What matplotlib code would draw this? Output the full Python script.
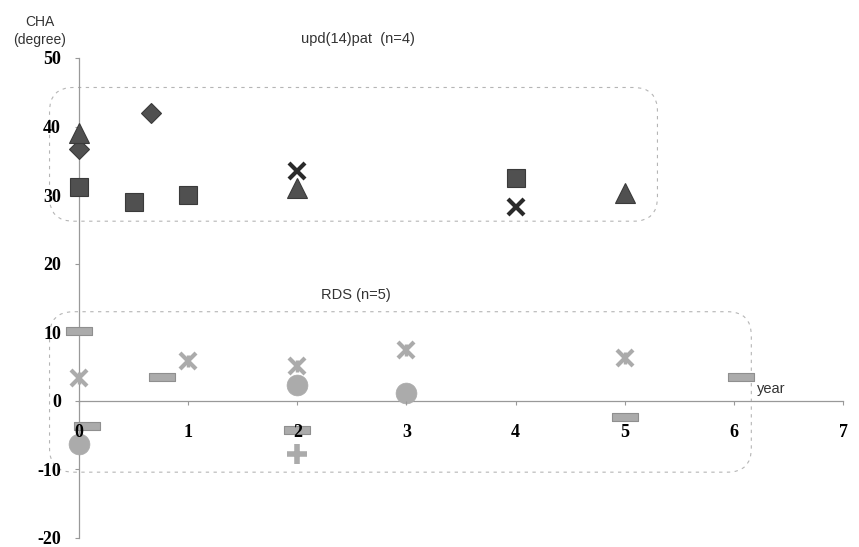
import matplotlib
matplotlib.use("Agg")
import matplotlib.pyplot as plt
from matplotlib.patches import FancyBboxPatch

# upd(14)pat (n=4)
upd_diamond_x = [0, 0.66]
upd_diamond_y = [36.7, 42.0]
upd_square_x = [0, 0.5, 1, 4]
upd_square_y = [31.2, 29.0, 30.0, 32.5]
upd_triangle_x = [0, 2, 5]
upd_triangle_y = [39.0, 31.0, 30.3]
upd_cross_x = [2, 4]
upd_cross_y = [33.5, 28.3]

# RDS (n=5)
rds_dash_x = [0, 0.76, 0.07, 2, 5, 6.07]
rds_dash_y = [10.2, 3.5, -3.7, -4.2, -2.3, 3.5]
rds_star_x = [0, 1, 2, 3, 5]
rds_star_y = [3.3, 5.8, 5.1, 7.4, 6.2]
rds_circle_x = [0, 2, 3]
rds_circle_y = [-6.3, 2.3, 1.2]
rds_plus_x = [2]
rds_plus_y = [-7.8]

x_ticks = [0, 1, 2, 3, 4, 5, 6, 7]
y_ticks = [-20, -10, 0, 10, 20, 30, 40, 50]

W, H = 859, 547
fig = plt.figure(figsize=(W / 100, H / 100), dpi=100)
ax = fig.add_axes([79 / W, (H - 538) / H, (843 - 79) / W, (538 - 58) / H])
ax.set_xlim(0, 7)
ax.set_ylim(-20, 50)
ax.patch.set_alpha(0)

for s in ("top", "right"):
    ax.spines[s].set_visible(False)
ax.spines["bottom"].set_position(("data", 0))
ax.spines["left"].set_position(("data", 0))
for s in ("bottom", "left"):
    ax.spines[s].set_color("#999999")
    ax.spines[s].set_linewidth(0.9)

tick_font = dict(family=["Liberation Serif", "DejaVu Serif"], weight="bold", size=13)
ax.set_xticks(x_ticks)
ax.set_xticklabels([str(v) for v in x_ticks], **tick_font)
ax.set_yticks(y_ticks)
ax.set_yticklabels([str(v) for v in y_ticks], **tick_font)
ax.tick_params(axis="x", direction="out", length=3, color="#999999", pad=14)
ax.tick_params(axis="y", direction="out", length=3, color="#999999", pad=10)
ax.xaxis.set_zorder(6)

# dashed rounded boxes
xpx = ax.get_position().width * W / 7
ypx = ax.get_position().height * H / 70
aspect = xpx / ypx
r = 0.22
for (x0, x1, y0, y1) in [(-0.27, 5.3, 26.2, 45.7), (-0.27, 6.16, -10.4, 13.0)]:
    box = FancyBboxPatch((x0, y0), x1 - x0, y1 - y0,
                         boxstyle=f"round,pad=0,rounding_size={r}",
                         mutation_aspect=aspect, fill=False,
                         edgecolor="#b5b5b5", linewidth=0.8,
                         linestyle=(0, (3, 4)), clip_on=False, zorder=1)
    ax.add_patch(box)

dark = "#505050"
dark_e = "#3a3a3a"
light = "#ababab"
light_e = "#8f8f8f"

ax.plot(upd_diamond_x, upd_diamond_y, ls="none", marker="D", ms=10.5,
        mfc=dark, mec=dark_e, mew=0.8, clip_on=False, zorder=3)
ax.plot(upd_square_x, upd_square_y, ls="none", marker="s", ms=13.5,
        mfc=dark, mec=dark_e, mew=0.8, clip_on=False, zorder=3)
ax.plot(upd_triangle_x, upd_triangle_y, ls="none", marker="^", ms=14,
        mfc=dark, mec=dark_e, mew=0.8, clip_on=False, zorder=3)
ax.plot(upd_cross_x, upd_cross_y, ls="none", marker="x", ms=11,
        mec="#2a2a2a", mew=3, clip_on=False, zorder=4)

dash_marker = [(-1.7, -0.5), (1.7, -0.5), (1.7, 0.5), (-1.7, 0.5), (-1.7, -0.5)]
ax.plot(rds_dash_x, rds_dash_y, ls="none", marker=dash_marker, ms=19,
        mfc=light, mec=light_e, mew=0.8, clip_on=False, zorder=3)
ax.plot(rds_star_x, rds_star_y, ls="none", marker="x", ms=12,
        mec=light, mew=3, clip_on=False, zorder=3)
ax.plot(rds_star_x, rds_star_y, ls="none", marker="|", ms=9,
        mec=light, mew=2.5, clip_on=False, zorder=3)
ax.plot(rds_circle_x, rds_circle_y, ls="none", marker="o", ms=15,
        mfc=light, mec=light, mew=0.5, clip_on=False, zorder=3)
ax.plot(rds_plus_x, rds_plus_y, ls="none", marker="+", ms=14,
        mec=light, mew=4, clip_on=False, zorder=3)

sans = ["Liberation Sans", "DejaVu Sans"]
fig.text(40 / W, 1 - 31 / H, "CHA\n(degree)", ha="center", va="center",
         family=sans, size=10, color="#333333", linespacing=1.3)
ax.text(2.56, 52.8, "upd(14)pat  (n=4)", ha="center", va="center",
        family=sans, size=10.5, color="#333333")
ax.text(2.54, 15.5, "RDS (n=5)", ha="center", va="center",
        family=sans, size=10.5, color="#333333")
ax.text(6.21, 1.7, "year", ha="left", va="center",
        family=sans, size=10.5, color="#333333")

fig.savefig("out.png", dpi=100)
